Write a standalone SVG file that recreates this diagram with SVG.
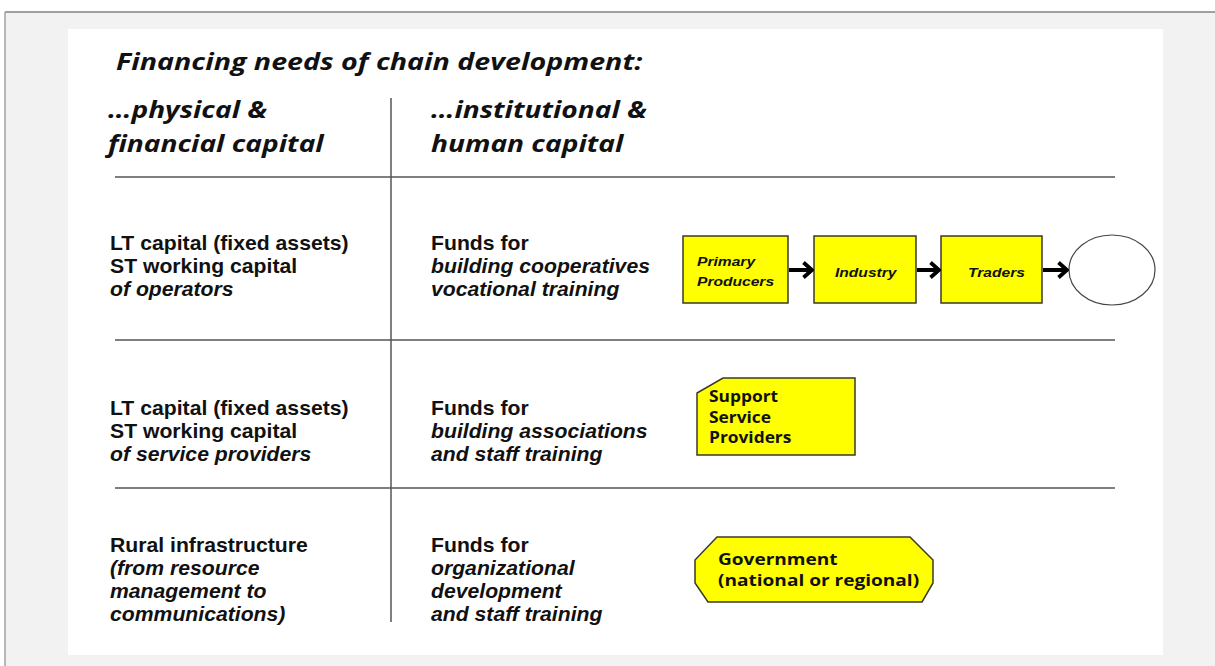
<svg xmlns="http://www.w3.org/2000/svg" width="1215" height="666" viewBox="0 0 1215 666">
<defs>
<style>
.hdr{font-family:"Open Sans","Noto Sans",sans-serif;font-weight:bold;font-style:italic;font-size:22.5px;fill:#111}
.ar{font-family:"Liberation Sans",Arial,sans-serif;font-weight:bold;font-size:20px;fill:#111}
.ari{font-family:"Liberation Sans",Arial,sans-serif;font-weight:bold;font-style:italic;font-size:20px;fill:#111}
.bx{font-family:"Liberation Sans",Arial,sans-serif;font-weight:bold;font-style:italic;font-size:13px;fill:#111}
.lb{font-family:"Open Sans","Noto Sans",sans-serif;font-weight:bold;font-size:15.5px;fill:#111}
.rule{stroke:#555;stroke-width:1.5}
.node{fill:#ffff00;stroke:#3a3a28;stroke-width:1.5}
.conn{stroke:#000;stroke-width:4;fill:none}
</style>
<marker id="chev" viewBox="0 0 12 18" refX="10" refY="9" markerWidth="12" markerHeight="18" markerUnits="userSpaceOnUse" orient="auto">
<path d="M1.5,1.5 L10,9 L1.5,16.5" fill="none" stroke="#000" stroke-width="3.8"/>
</marker>
</defs>
<rect x="0" y="0" width="1215" height="666" fill="#ffffff"/>
<rect x="5" y="12" width="1210" height="654" fill="#f2f2f2"/>
<line x1="5" y1="12" x2="1215" y2="12" stroke="#a0a0a0" stroke-width="2"/>
<line x1="5" y1="12" x2="5" y2="666" stroke="#a0a0a0" stroke-width="1.5"/>
<rect x="68" y="29" width="1095" height="626" fill="#ffffff"/>

<g id="table">
<text class="hdr" transform="translate(116,70) scale(1.273,1)">Financing needs of chain development:</text>
<g transform="translate(108,0) scale(1.25,1)">
<text class="hdr" x="0" y="118">…physical &amp;</text>
<text class="hdr" x="0" y="152">financial capital</text>
</g>
<g transform="translate(431,0) scale(1.25,1)">
<text class="hdr" x="0" y="118">…institutional &amp;</text>
<text class="hdr" x="0" y="152">human capital</text>
</g>
<line class="rule" x1="391" y1="98" x2="391" y2="622" stroke-width="1.2"/>
<line class="rule" x1="115" y1="177" x2="1115" y2="177"/>
<line class="rule" x1="115" y1="340" x2="1115" y2="340"/>
<line class="rule" x1="115" y1="488" x2="1115" y2="488"/>

<g transform="translate(110,0) scale(1.06,1)">
<text class="ar" x="0" y="250">LT capital (fixed assets)</text>
<text class="ar" x="0" y="273">ST working capital</text>
<text class="ari" x="0" y="296">of operators</text>
<text class="ar" x="0" y="415">LT capital (fixed assets)</text>
<text class="ar" x="0" y="438">ST working capital</text>
<text class="ari" x="0" y="461">of service providers</text>
<text class="ar" x="0" y="552">Rural infrastructure</text>
<text class="ari" x="0" y="575">(from resource</text>
<text class="ari" x="0" y="598">management to</text>
<text class="ari" x="0" y="621">communications)</text>
</g>
<g transform="translate(431,0) scale(1.06,1)">
<text class="ar" x="0" y="250">Funds for</text>
<text class="ari" x="0" y="273">building cooperatives</text>
<text class="ari" x="0" y="296">vocational training</text>
<text class="ar" x="0" y="415">Funds for</text>
<text class="ari" x="0" y="438">building associations</text>
<text class="ari" x="0" y="461">and staff training</text>
<text class="ar" x="0" y="552">Funds for</text>
<text class="ari" x="0" y="575">organizational</text>
<text class="ari" x="0" y="598">development</text>
<text class="ari" x="0" y="621">and staff training</text>
</g>
</g>

<g id="primary-producers">
<rect class="node" x="683" y="236" width="105" height="67"/>
<g transform="translate(697,0) scale(1.2,1)">
<text class="bx" x="0" y="266">Primary</text>
<text class="bx" x="0" y="286">Producers</text>
</g>
</g>
<g id="industry">
<rect class="node" x="814" y="236" width="102" height="67"/>
<text class="bx" transform="translate(835,277) scale(1.2,1)">Industry</text>
</g>
<g id="traders">
<rect class="node" x="941" y="236" width="101" height="67"/>
<text class="bx" transform="translate(968,277) scale(1.2,1)">Traders</text>
</g>
<g id="consumer">
<ellipse cx="1112" cy="270" rx="43" ry="35" fill="#ffffff" stroke="#444" stroke-width="1.2"/>
</g>
<g id="support-service-providers">
<polygon class="node" points="723,378 855,378 855,455 697,455 697,393"/>
<g transform="translate(709,0) scale(1.12,1)">
<text class="lb" x="0" y="402">Support</text>
<text class="lb" x="0" y="423">Service</text>
<text class="lb" x="0" y="443">Providers</text>
</g>
</g>
<g id="government">
<polygon class="node" points="717,537 910,537 933,560 933,583 922,602 708,602 695,583 695,560"/>
<g transform="translate(718,0) scale(1.23,1)">
<text class="lb" x="0" y="565" font-size="16.5">Government</text>
<text class="lb" x="0" y="586" font-size="16.5">(national or regional)</text>
</g>
</g>

<g id="connectors">
<line class="conn" x1="789" y1="270" x2="812" y2="270" marker-end="url(#chev)"/>
<line class="conn" x1="917" y1="270" x2="939" y2="270" marker-end="url(#chev)"/>
<line class="conn" x1="1043" y1="270" x2="1067" y2="270" marker-end="url(#chev)"/>
</g>
</svg>
